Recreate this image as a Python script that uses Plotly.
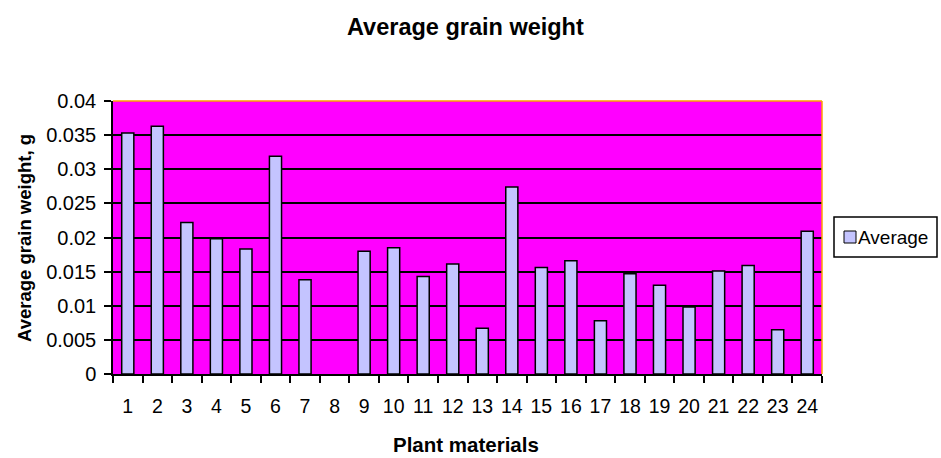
import plotly.graph_objects as go

categories = [str(i) for i in range(1, 25)]
average = [0.0353, 0.0363, 0.0222, 0.0198, 0.0183, 0.0319, 0.0138, None,
           0.0180, 0.0185, 0.0143, 0.0161, 0.0067, 0.0274, 0.0156, 0.0166,
           0.0078, 0.0147, 0.0130, 0.0098, 0.0151, 0.0159, 0.0065, 0.0209]
y_ticks = [0, 0.005, 0.01, 0.015, 0.02, 0.025, 0.03, 0.035, 0.04]
y_tick_labels = ["0", "0.005", "0.01", "0.015", "0.02", "0.025", "0.03", "0.035", "0.04"]
series_name = "Average"

font = "Liberation Sans, Arial, sans-serif"
bar_fill = "#C4C4FF"

W, H = 941, 458
ml, mr, mt, mb = 113, 119, 101, 84
pw, ph = W - ml - mr, H - mt - mb

def px_x(x):
    return (x - ml) / pw

def px_y(y):
    return (H - mb - y) / ph

fig = go.Figure()
fig.add_trace(go.Bar(
    x=categories, y=average, name=series_name,
    marker=dict(color=bar_fill, line=dict(color="black", width=1.5)),
    width=0.41, showlegend=False, hoverinfo="skip",
))

fig.update_layout(
    width=W, height=H,
    margin=dict(l=ml, r=mr, t=mt, b=mb),
    paper_bgcolor="white",
    plot_bgcolor="#FF00FF",
    font=dict(family=font, size=20, color="black"),
    showlegend=False,
)
fig.update_xaxes(
    type="category", tickson="boundaries", ticks="outside", ticklen=7,
    tickcolor="black", tickwidth=1.5, showline=True, linecolor="black", linewidth=1.5,
    showgrid=False, tickfont=dict(size=19.5), automargin=False, ticklabelstandoff=14,
    tickangle=0,
)
fig.update_yaxes(
    range=[0, 0.04], tickvals=y_ticks, ticktext=y_tick_labels,
    ticks="outside", ticklen=7, tickcolor="black", tickwidth=1.5,
    showline=True, linecolor="black", linewidth=1.5,
    showgrid=True, gridcolor="black", gridwidth=1.8,
    zeroline=False, tickfont=dict(size=20), automargin=False, ticklabelstandoff=4,
)

# plot-area border (top/right)
fig.add_shape(type="line", xref="paper", yref="paper", x0=0, x1=1, y0=1, y1=1,
              line=dict(color="#FFA000", width=1.5), layer="above")
fig.add_shape(type="line", xref="paper", yref="paper", x0=1, x1=1, y0=0, y1=1,
              line=dict(color="#FFA000", width=1.5), layer="above")

# title and axis titles
fig.add_annotation(text="<b>Average grain weight</b>", xref="paper", yref="paper",
                   x=px_x(465), y=px_y(27), xanchor="center", yanchor="middle",
                   showarrow=False, font=dict(family=font, size=23.5, color="black"))
fig.add_annotation(text="<b>Plant materials</b>", xref="paper", yref="paper",
                   x=px_x(466), y=px_y(444), xanchor="center", yanchor="middle",
                   showarrow=False, font=dict(family=font, size=20.5, color="black"))
fig.add_annotation(text="<b>Average grain weight, g</b>", xref="paper", yref="paper",
                   x=px_x(24), y=px_y(238), xanchor="center", yanchor="middle",
                   textangle=-90, showarrow=False, font=dict(family=font, size=18.5, color="black"))

# legend box drawn manually
fig.add_shape(type="rect", xref="paper", yref="paper",
              x0=px_x(834), x1=px_x(937), y0=px_y(257), y1=px_y(217),
              line=dict(color="black", width=1.5), fillcolor="white", layer="above")
fig.add_shape(type="rect", xref="paper", yref="paper",
              x0=px_x(844), x1=px_x(856), y0=px_y(243), y1=px_y(231),
              line=dict(color="black", width=1), fillcolor=bar_fill, layer="above")
fig.add_annotation(text=series_name, xref="paper", yref="paper",
                   x=px_x(856), y=px_y(237), xanchor="left", yanchor="middle",
                   showarrow=False, font=dict(family=font, size=19, color="black"))

fig.write_html("out.html", config={"displayModeBar": False},
               post_script="document.body.style.margin='0px';")
